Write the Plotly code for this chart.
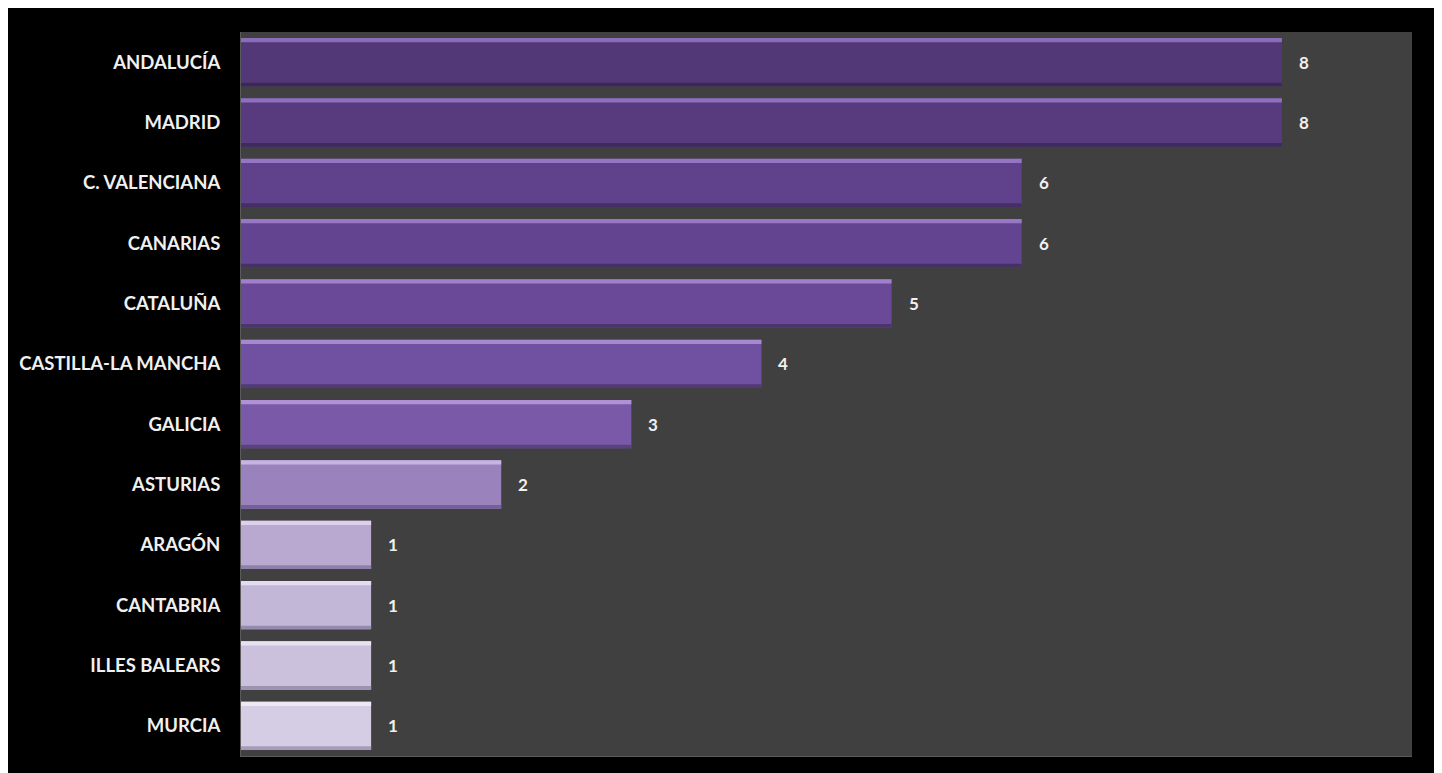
import plotly.graph_objects as go

regions = ["ANDALUCÍA", "MADRID", "C. VALENCIANA", "CANARIAS", "CATALUÑA",
           "CASTILLA-LA MANCHA", "GALICIA", "ASTURIAS", "ARAGÓN", "CANTABRIA",
           "ILLES BALEARS", "MURCIA"]
values = [8, 8, 6, 6, 5, 4, 3, 2, 1, 1, 1, 1]
bar_colors = ["#523876", "#573b7e", "#60418c", "#634490", "#6a4a98", "#7050a0",
              "#7a5aa8", "#9a82bc", "#b9a9d0", "#c3b7d8", "#cbc1dd", "#d5cde3"]
top_colors = ["#8a6cb8", "#8e70bc", "#9476c4", "#9878c6", "#a080cc", "#a688d0",
              "#ae92d4", "#c8b4e2", "#ddd0ec", "#e4dbf0", "#e8e1f2", "#eee8f5"]
shade_colors = ["#3c2858", "#3e2a5c", "#442e64", "#463066", "#4c346e", "#523a76",
                "#5a427e", "#74609a", "#8e80a8", "#968aae", "#9c92b2", "#a49cb8"]

fig = go.Figure()
fig.add_trace(go.Bar(y=regions, x=values, orientation="h",
                     marker=dict(color=bar_colors, line=dict(width=0)),
                     width=0.8, offset=-0.4, hoverinfo="x+y"))
fig.add_trace(go.Bar(y=regions, x=values, orientation="h",
                     marker=dict(color=top_colors, line=dict(width=0)),
                     width=0.07, offset=-0.4, hoverinfo="skip"))
fig.add_trace(go.Bar(y=regions, x=values, orientation="h",
                     marker=dict(color=shade_colors, line=dict(width=0)),
                     width=0.06, offset=0.34, hoverinfo="skip"))

for r, v in zip(regions, values):
    fig.add_annotation(x=v, y=r, text=str(v), showarrow=False, xanchor="left",
                       xshift=15, font=dict(color="#f0f0f0", size=17, family="Lato", weight="bold"))

# figure sits in the page with an 8px body margin
W, H = 1434, 765
L, R, T, B = 233, 30, 24, 17
pw, ph = W - L - R, H - T - B

def px(x):
    return (x - L) / pw

def py(y):
    return (H - B - y) / ph

frame = "#c8c8c8"
shapes = [
    dict(type="rect", xref="paper", yref="paper", x0=px(1428), x1=px(W + 5), y0=py(H + 5), y1=py(-5),
         fillcolor=frame, line=dict(width=0), layer="above"),
]

fig.update_layout(
    width=W, height=H,
    margin=dict(l=L, r=R, t=T, b=B, pad=0),
    paper_bgcolor="#000000",
    plot_bgcolor="#404040",
    barmode="overlay",
    showlegend=False,
    shapes=shapes,
    xaxis=dict(range=[0, 9], showgrid=False, zeroline=False, showticklabels=False,
               showline=True, linecolor="#5a5a5a", linewidth=1, fixedrange=True),
    yaxis=dict(autorange="reversed", showgrid=False, zeroline=False, ticks="",
               showline=True, linecolor="#5a5a5a", linewidth=1, ticklabelstandoff=16,
               tickfont=dict(color="#f0f0f0", size=18.5, family="Lato", weight="bold")),
)

fig.write_html("out.html")
